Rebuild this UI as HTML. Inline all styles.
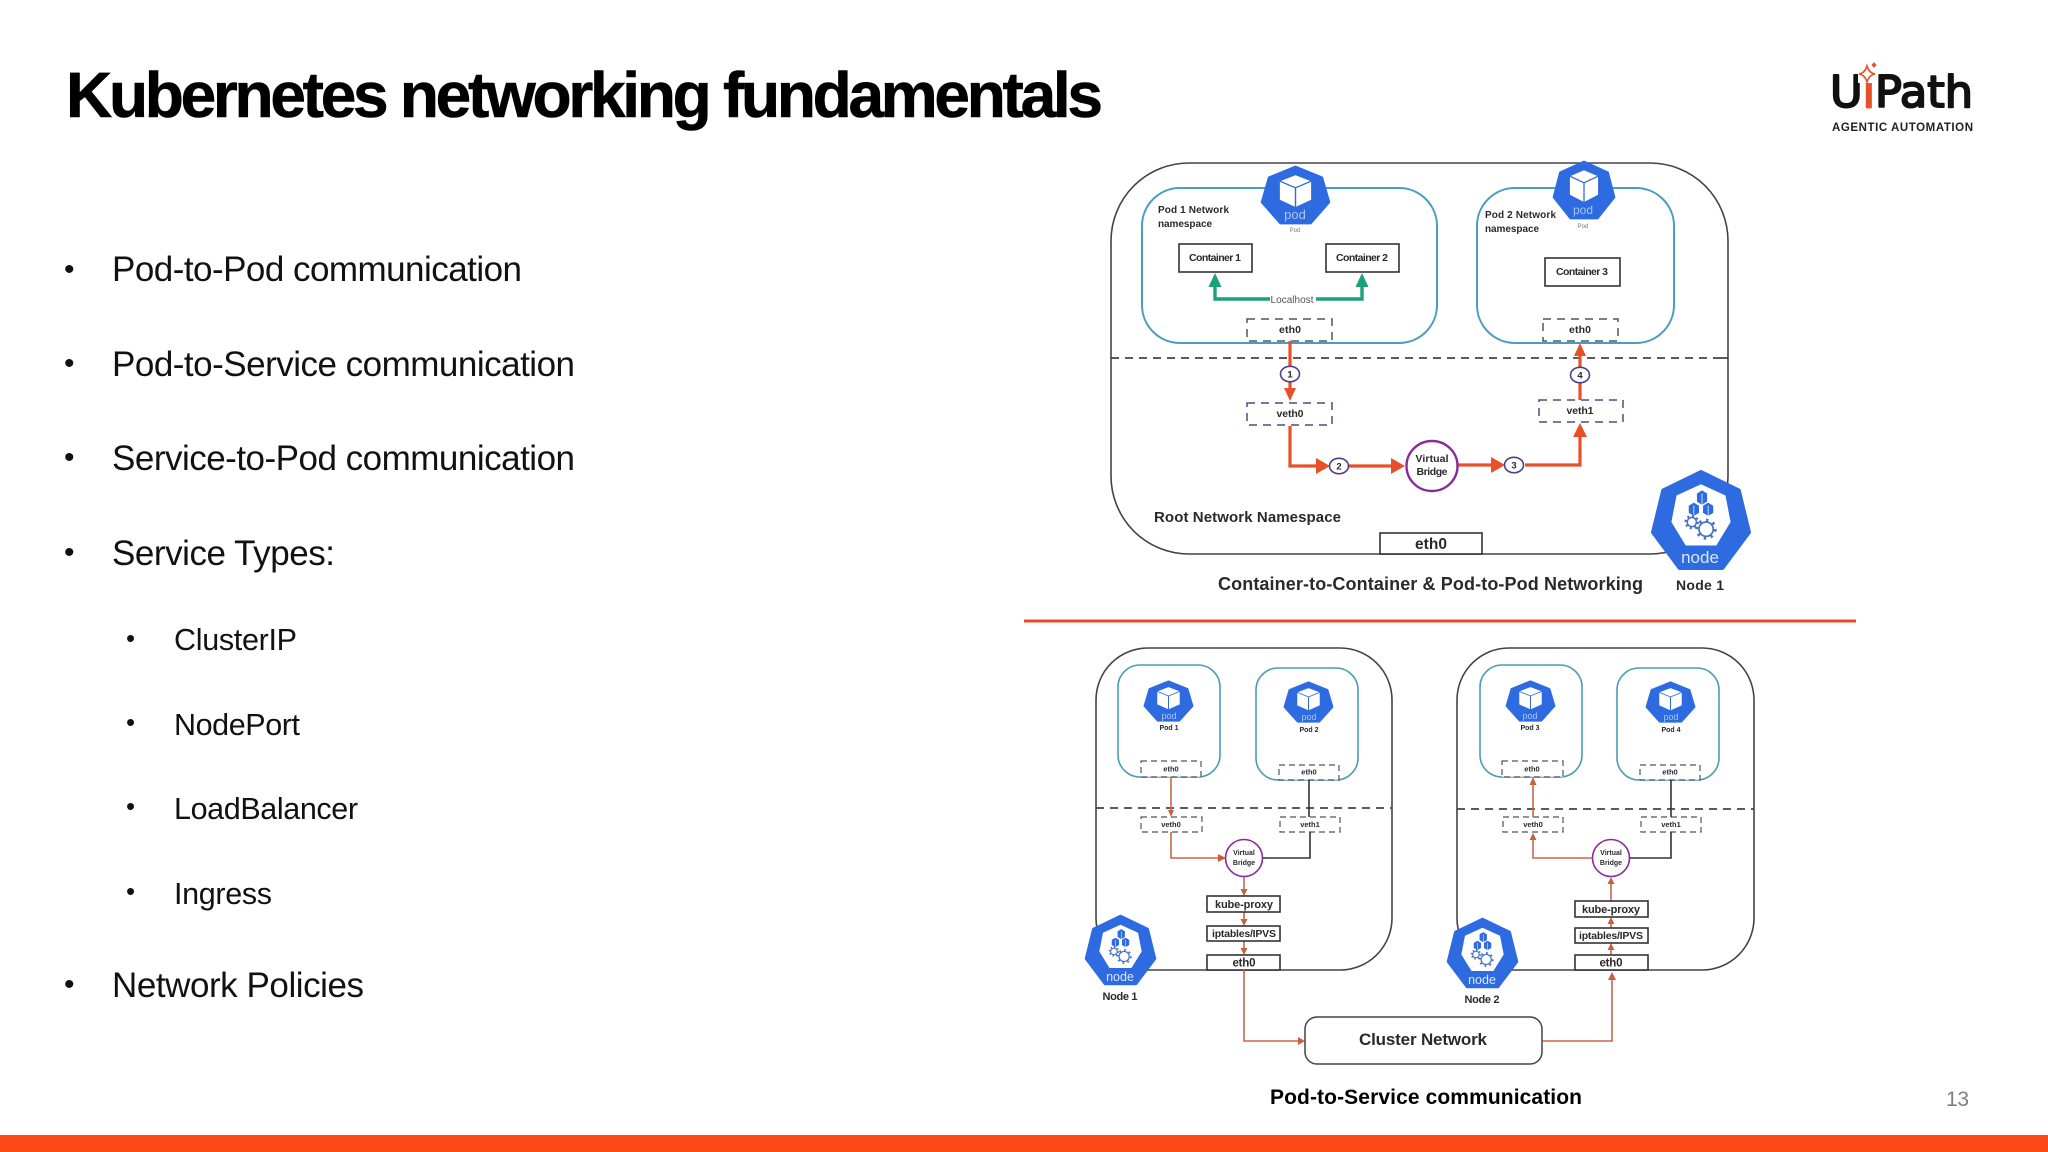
<!DOCTYPE html>
<html lang="en">
<head>
<meta charset="utf-8">
<title>Kubernetes networking fundamentals</title>
<style>
html,body{margin:0;padding:0;background:#fff;width:2048px;height:1152px;overflow:hidden}
svg{display:block;position:absolute;left:0;top:0}
text{font-family:"Liberation Sans",sans-serif}
.b{font-weight:700;fill:#2a2a2a}
.m{text-anchor:middle}
.dia{filter:blur(.35px)}
.d1{fill:none;stroke:#555;stroke-width:1.5;stroke-dasharray:8 6}
.d2{fill:none;stroke:#4e4a80;stroke-width:1.5;stroke-dasharray:8 6}
.d3{fill:#fff;fill-opacity:.6;stroke:#555;stroke-width:1.2;stroke-dasharray:6 4}
.box{fill:#fff;stroke:#333;stroke-width:1.6}
.pb{fill:none;stroke:#4b9dc0;stroke-width:2}
.pb2{fill:none;stroke:#4a9db5;stroke-width:1.6}
.out{fill:none;stroke:#444;stroke-width:1.6}
.dash{stroke:#444;stroke-width:1.8;stroke-dasharray:8 6;fill:none}
.r{fill:none;stroke:#e8502a;stroke-width:3.2}
.rh{fill:#e8502a}
.t{fill:none;stroke:#c8674a;stroke-width:1.6}
.th{fill:#c8603f}
.k{fill:none;stroke:#333;stroke-width:1.6}
.g{fill:none;stroke:#1ba17c;stroke-width:3.4}
.gh{fill:#1ba17c}
.num{fill:#fff;stroke:#4a3f8c;stroke-width:1.6}
.vb{fill:#fff;stroke:#8a2a9a;stroke-width:2.4}
.vb2{fill:#fff;stroke:#8a2a9a;stroke-width:1.6}
</style>
</head>
<body>
<svg width="2048" height="1152" viewBox="0 0 2048 1152" xmlns="http://www.w3.org/2000/svg">
<defs>
<symbol id="pod" viewBox="0 0 100 100" preserveAspectRatio="none">
  <polygon points="50,3 87,21 97,62 71,97 29,97 3,62 13,21" fill="#2f6be0" stroke="#2f6be0" stroke-width="4" stroke-linejoin="round"/>
  <polygon points="50,17 72,27 72,58 50,70 28,58 28,27" fill="#fff"/>
  <path d="M28,27 L50,38 L72,27 M50,38 L50,70" fill="none" stroke="#2f6be0" stroke-width="2"/>
</symbol>
<symbol id="node" viewBox="0 0 100 100" preserveAspectRatio="none">
  <polygon points="50,3 87,21 97,62 71,97 29,97 3,62 13,21" fill="#2f6be0" stroke="#2f6be0" stroke-width="4" stroke-linejoin="round"/>
  <polygon points="50,15 74,26 79,52 65,75 35,75 21,52 26,26" fill="#fff"/>
  <g fill="#2f6be0">
    <polygon points="51,21 56,24 56,32 51,35 46,32 46,24"/>
    <polygon points="43,33 48,36 48,43 43,46 38,43 38,36"/>
    <polygon points="57,33 62,36 62,43 57,46 52,43 52,36"/>
  </g>
  <g fill="#fff" stroke="#fff" stroke-width=".7">
    <path d="M51,24V35M43,36V46M57,36V46" fill="none"/>
  </g>
  <g fill="none" stroke="#4a74c0">
    <circle cx="41" cy="52" r="4.5" stroke-width="1.5" fill="#fff"/>
    <circle cx="41" cy="52" r="6" stroke-width="2.4" stroke-dasharray="2 2.7"/>
    <circle cx="55" cy="59" r="7" stroke-width="1.7" fill="#fff"/>
    <circle cx="55" cy="59" r="9" stroke-width="2.8" stroke-dasharray="2.4 4.6"/>
  </g>
</symbol>
</defs>

<rect width="2048" height="1152" fill="#fff"/>

<!-- Title -->
<text x="66" y="117" font-size="64" font-weight="700" fill="#000" stroke="#000" stroke-width=".6" textLength="1037" lengthAdjust="spacing">Kubernetes networking fundamentals</text>

<!-- Bullets -->
<g font-size="35" fill="#111">
  <text x="112" y="281" textLength="410">Pod-to-Pod communication</text>
  <text x="112" y="376" textLength="463">Pod-to-Service communication</text>
  <text x="112" y="470" textLength="463">Service-to-Pod communication</text>
  <text x="112" y="565" textLength="223">Service Types:</text>
  <text x="112" y="997" textLength="252">Network Policies</text>
</g>
<g font-size="30.5" fill="#111">
  <text x="174" y="650" textLength="123">ClusterIP</text>
  <text x="174" y="735" textLength="126">NodePort</text>
  <text x="174" y="819" textLength="184">LoadBalancer</text>
  <text x="174" y="904" textLength="98">Ingress</text>
</g>
<g fill="#111" font-size="30">
  <text x="64" y="279">•</text>
  <text x="64" y="373">•</text>
  <text x="64" y="467">•</text>
  <text x="64" y="562">•</text>
  <text x="64" y="994">•</text>
</g>
<g fill="#111" font-size="26">
  <text x="126" y="647">•</text>
  <text x="126" y="731">•</text>
  <text x="126" y="815">•</text>
  <text x="126" y="900">•</text>
</g>

<!-- Logo -->
<g>
  <text x="1830" y="107" font-size="44" fill="#111" stroke="#111" stroke-width="2" stroke-linejoin="round" style="font-family:'DejaVu Sans',sans-serif" textLength="143" lengthAdjust="spacingAndGlyphs">U<tspan fill="#e8502a" stroke="#e8502a">i</tspan>Path</text>
  <rect x="1858" y="62" width="16" height="21" fill="#fff"/>
  <path d="M1867,66 Q1869,73 1875,74 Q1869,75 1867,82 Q1865,75 1859,74 Q1865,73 1867,66Z" fill="#fff" stroke="#e8502a" stroke-width="1.6"/>
  <path d="M1874,62 l2.5,3 l-2.5,3 l-2.5,-3Z" fill="#e8502a"/>
  <text x="1832" y="131" font-size="11.5" font-weight="700" fill="#222" textLength="141">AGENTIC AUTOMATION</text>
</g>

<!-- Footer -->
<rect x="0" y="1135" width="2048" height="17" fill="#fc4a17"/>
<text x="1946" y="1106" font-size="21" fill="#808080" textLength="23">13</text>
<text x="1270" y="1104" font-size="21" font-weight="700" fill="#000" textLength="312">Pod-to-Service communication</text>

<!-- Separator -->
<line x1="1024" y1="621" x2="1856" y2="621" stroke="#e8492a" stroke-width="3"/>

<g class="dia">
<!-- ============ TOP DIAGRAM ============ -->
<rect class="out" x="1111" y="163" width="617" height="391" rx="78" ry="78"/>
<line class="dash" x1="1111" y1="358" x2="1728" y2="358"/>
<line x1="1721" y1="358" x2="1728" y2="358" stroke="#444" stroke-width="1.8"/>
<rect class="pb" x="1142" y="188" width="295" height="155" rx="38"/>
<rect class="pb" x="1477" y="188" width="197" height="155" rx="38"/>

<use href="#pod" x="1260" y="165" width="71" height="60"/>
<text class="m" x="1295" y="219" font-size="13" fill="#a8c5f5">pod</text>
<text class="m" x="1295" y="232" font-size="6" fill="#777">Pod</text>
<use href="#pod" x="1552" y="160" width="64" height="60"/>
<text class="m" x="1583" y="214" font-size="12" fill="#a8c5f5">pod</text>
<text class="m" x="1583" y="228" font-size="6" fill="#777">Pod</text>

<g font-size="10">
  <text class="b" x="1158" y="213" textLength="71">Pod 1 Network</text>
  <text class="b" x="1158" y="227" textLength="54">namespace</text>
  <text class="b" x="1485" y="218" textLength="71">Pod 2 Network</text>
  <text class="b" x="1485" y="232" textLength="54">namespace</text>
</g>

<rect class="box" x="1179" y="244" width="73" height="28"/>
<rect class="box" x="1326" y="244" width="73" height="28"/>
<rect class="box" x="1545" y="258" width="75" height="28"/>
<g font-size="10.5">
  <text class="b m" x="1215" y="261" textLength="52">Container 1</text>
  <text class="b m" x="1362" y="261" textLength="52">Container 2</text>
  <text class="b m" x="1582" y="275" textLength="52">Container 3</text>
</g>

<path class="g" d="M1270,299 H1215 V285"/>
<path class="g" d="M1316,299 H1362 V285"/>
<polygon class="gh" points="1215,273 1221.5,287 1208.5,287"/>
<polygon class="gh" points="1362,273 1368.5,287 1355.5,287"/>
<text class="m" x="1292" y="303" font-size="10" fill="#555" textLength="43">Localhost</text>

<rect class="d1" x="1247" y="319" width="85" height="22"/>
<rect class="d1" x="1543" y="319" width="75" height="22"/>
<rect class="d2" x="1247" y="403" width="85" height="22"/>
<rect class="d2" x="1539" y="400" width="84" height="22"/>
<g font-size="10.5">
  <text class="b m" x="1290" y="333" textLength="22">eth0</text>
  <text class="b m" x="1580" y="333" textLength="22">eth0</text>
  <text class="b m" x="1290" y="417" textLength="27">veth0</text>
  <text class="b m" x="1580" y="414" textLength="27">veth1</text>
</g>

<path class="r" d="M1290,341 V392"/>
<polygon class="rh" points="1290,401 1284,388 1296,388"/>
<path class="r" d="M1290,426 V466 H1322"/>
<polygon class="rh" points="1330,466 1316,458 1316,474"/>
<path class="r" d="M1349,466 H1396"/>
<polygon class="rh" points="1405,466 1391,458 1391,474"/>
<path class="r" d="M1458,465 H1495"/>
<polygon class="rh" points="1505,465 1491,457 1491,473"/>
<path class="r" d="M1525,465 H1580 V434"/>
<polygon class="rh" points="1580,423 1573,437 1587,437"/>
<path class="r" d="M1580,400 V352"/>
<polygon class="rh" points="1580,343 1574,356 1586,356"/>

<ellipse class="num" cx="1290" cy="374" rx="9.5" ry="7.7"/>
<ellipse class="num" cx="1339" cy="466" rx="9.5" ry="7.7"/>
<ellipse class="num" cx="1514" cy="465" rx="9.5" ry="7.7"/>
<ellipse class="num" cx="1580" cy="375" rx="9.5" ry="7.7"/>
<g font-size="9.5">
  <text class="b m" x="1290" y="377.5">1</text>
  <text class="b m" x="1339" y="469.5">2</text>
  <text class="b m" x="1514" y="468.5">3</text>
  <text class="b m" x="1580" y="378.5">4</text>
</g>

<ellipse class="vb" cx="1432" cy="466" rx="25.5" ry="25"/>
<g font-size="10.5">
  <text class="b m" x="1432" y="462" textLength="33">Virtual</text>
  <text class="b m" x="1432" y="475" textLength="31">Bridge</text>
</g>

<text class="b" x="1154" y="522" font-size="15" textLength="187">Root Network Namespace</text>
<rect class="box" x="1380" y="533" width="102" height="21"/>
<text class="b m" x="1431" y="549" font-size="15.5" textLength="32">eth0</text>

<use href="#node" x="1650" y="469" width="102" height="102"/>
<text class="m" x="1700" y="563" font-size="17" fill="#dbe7fb">node</text>

<text class="b" x="1218" y="590" font-size="18" textLength="425">Container-to-Container &amp; Pod-to-Pod Networking</text>
<text class="b" x="1676" y="590" font-size="14" textLength="48">Node 1</text>

<!-- ============ BOTTOM LEFT ============ -->
<rect class="out" x="1096" y="648" width="296" height="322" rx="52"/>
<line class="dash" x1="1096" y1="808" x2="1392" y2="808"/>
<rect class="pb2" x="1118" y="665" width="102" height="112" rx="22"/>
<rect class="pb2" x="1256" y="668" width="102" height="112" rx="22"/>

<use href="#pod" x="1143" y="680" width="51" height="42"/>
<text class="m" x="1169" y="719" font-size="9" fill="#a8c5f5">pod</text>
<text class="b m" x="1169" y="730" font-size="7">Pod 1</text>
<use href="#pod" x="1283" y="681" width="51" height="42"/>
<text class="m" x="1309" y="720" font-size="9" fill="#a8c5f5">pod</text>
<text class="b m" x="1309" y="732" font-size="7">Pod 2</text>

<rect class="d3" x="1141" y="761" width="60" height="16"/>
<rect class="d3" x="1279" y="765" width="60" height="15"/>
<rect class="d3" x="1141" y="817" width="61" height="15"/>
<rect class="d3" x="1280" y="817" width="60" height="15"/>
<g font-size="7.5">
  <text class="b m" x="1171" y="771.5">eth0</text>
  <text class="b m" x="1309" y="774.5">eth0</text>
  <text class="b m" x="1171" y="827">veth0</text>
  <text class="b m" x="1310" y="827">veth1</text>
</g>

<path class="t" d="M1171,777 V812"/>
<polygon class="th" points="1171,817 1168,810 1174,810"/>
<path class="t" d="M1171,832 V858 H1220"/>
<polygon class="th" points="1226,858 1218,854 1218,862"/>
<path class="k" d="M1309,780 V817"/>
<path class="k" d="M1262,858 H1310 V832"/>
<circle class="vb2" cx="1244" cy="858" r="18.5"/>
<g font-size="7">
  <text class="b m" x="1244" y="855">Virtual</text>
  <text class="b m" x="1244" y="865">Bridge</text>
</g>
<path class="t" d="M1244,877 V892"/>
<polygon class="th" points="1244,896 1240.5,889 1247.5,889"/>
<path class="t" d="M1244,912 V922"/>
<polygon class="th" points="1244,926 1240.5,919 1247.5,919"/>
<path class="t" d="M1244,941 V951"/>
<polygon class="th" points="1244,955 1240.5,948 1247.5,948"/>

<rect class="box" x="1207" y="896" width="73" height="16"/>
<rect class="box" x="1207" y="926" width="73" height="15"/>
<rect class="box" x="1207" y="955" width="73" height="15"/>
<text class="b m" x="1244" y="908" font-size="11" textLength="58">kube-proxy</text>
<text class="b m" x="1244" y="937" font-size="10.5" textLength="64">iptables/IPVS</text>
<text class="b m" x="1244" y="966.5" font-size="11.5" textLength="23">eth0</text>

<use href="#node" x="1084" y="914" width="73" height="72"/>
<text class="m" x="1120" y="981" font-size="12.5" fill="#dbe7fb">node</text>
<text class="b m" x="1120" y="1000" font-size="11" textLength="35">Node 1</text>

<!-- ============ BOTTOM RIGHT ============ -->
<rect class="out" x="1457" y="648" width="297" height="322" rx="52"/>
<line class="dash" x1="1457" y1="809" x2="1754" y2="809"/>
<rect class="pb2" x="1480" y="665" width="102" height="112" rx="22"/>
<rect class="pb2" x="1617" y="668" width="102" height="112" rx="22"/>

<use href="#pod" x="1505" y="680" width="51" height="42"/>
<text class="m" x="1530" y="719" font-size="9" fill="#a8c5f5">pod</text>
<text class="b m" x="1530" y="730" font-size="7">Pod 3</text>
<use href="#pod" x="1645" y="681" width="51" height="42"/>
<text class="m" x="1671" y="720" font-size="9" fill="#a8c5f5">pod</text>
<text class="b m" x="1671" y="732" font-size="7">Pod 4</text>

<rect class="d3" x="1502" y="761" width="61" height="16"/>
<rect class="d3" x="1640" y="765" width="60" height="15"/>
<rect class="d3" x="1503" y="817" width="60" height="15"/>
<rect class="d3" x="1641" y="817" width="60" height="15"/>
<g font-size="7.5">
  <text class="b m" x="1532" y="771.5">eth0</text>
  <text class="b m" x="1670" y="774.5">eth0</text>
  <text class="b m" x="1533" y="827">veth0</text>
  <text class="b m" x="1671" y="827">veth1</text>
</g>

<path class="t" d="M1533,817 V783"/>
<polygon class="th" points="1533,777 1529.5,785 1536.5,785"/>
<path class="t" d="M1593,858 H1533 V838"/>
<polygon class="th" points="1533,833 1529.5,840 1536.5,840"/>
<path class="k" d="M1671,780 V817"/>
<path class="k" d="M1629,858 H1671 V832"/>
<circle class="vb2" cx="1611" cy="858" r="18.5"/>
<g font-size="7">
  <text class="b m" x="1611" y="855">Virtual</text>
  <text class="b m" x="1611" y="865">Bridge</text>
</g>
<path class="t" d="M1611,901 V881"/>
<polygon class="th" points="1611,877 1607.5,884 1614.5,884"/>
<path class="t" d="M1611,928 V921"/>
<polygon class="th" points="1611,917 1607.5,924 1614.5,924"/>
<path class="t" d="M1611,955 V947"/>
<polygon class="th" points="1611,943 1607.5,950 1614.5,950"/>

<rect class="box" x="1575" y="901" width="73" height="16"/>
<rect class="box" x="1575" y="928" width="73" height="15"/>
<rect class="box" x="1575" y="955" width="73" height="15"/>
<text class="b m" x="1611" y="913" font-size="11" textLength="58">kube-proxy</text>
<text class="b m" x="1611" y="939" font-size="10.5" textLength="64">iptables/IPVS</text>
<text class="b m" x="1611" y="966.5" font-size="11.5" textLength="23">eth0</text>

<use href="#node" x="1446" y="917" width="73" height="72"/>
<text class="m" x="1482" y="984" font-size="12.5" fill="#dbe7fb">node</text>
<text class="b m" x="1482" y="1003" font-size="11" textLength="35">Node 2</text>

<!-- ============ CLUSTER ============ -->
<path class="t" d="M1244,970 V1041 H1299"/>
<polygon class="th" points="1305,1041 1298,1037 1298,1045"/>
<path class="t" d="M1542,1041 H1612 V978"/>
<polygon class="th" points="1612,972 1608,980 1616,980"/>
<rect x="1305" y="1017" width="237" height="47" rx="12" fill="#fff" stroke="#444" stroke-width="1.5"/>
<text class="b m" x="1423" y="1045" font-size="17" textLength="128">Cluster Network</text>
</g>
</svg>
</body>
</html>
